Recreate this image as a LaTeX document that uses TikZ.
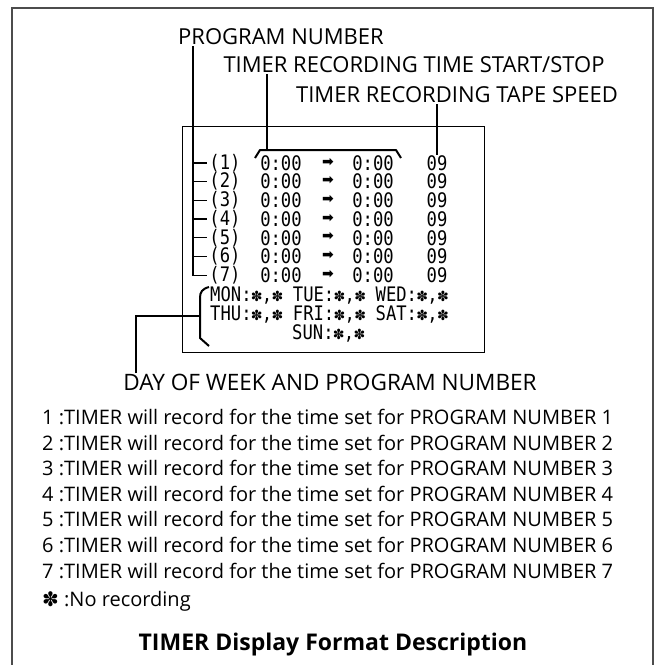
\documentclass[tikz,border=0pt]{standalone}
\usepackage{fontspec}
\setmainfont{Open Sans}
\newfontfamily\lcdfont[FakeStretch=0.86]{DejaVu Sans Mono}
\newfontfamily\symfont{DejaVu Sans}
\newcommand\lcdstar{\makebox[10.3pt]{\symfont\fontsize{14}{14}\selectfont ✽}}
\usetikzlibrary{positioning}

\tikzset{
	note/.style={font=\fontsize{22}{25}\selectfont, inner sep=1pt},
	desc/.style={font=\fontsize{20}{23}\selectfont, inner sep=1pt, anchor=west},
	lcd/.style={font=\lcdfont\fontsize{20}{22}\selectfont, inner sep=0pt},
	day/.style={lcd, anchor=west},
	lead/.style={line width=1.3pt},
	brk/.style={line width=2pt, line join=round},
	frame/.style={line width=1.6pt, draw=black!70},
}

\begin{document}
\begin{tikzpicture}[x=1pt, y=-1pt]
			\useasboundingbox (0,0) rectangle (658,665);
			\draw[frame] (12,665) |- (653,8) -- (653,665);
			% Labels
			\node[note] (pnum) at (281,37) {PROGRAM NUMBER};
			\node[note] (tstart) at (414,65) {TIMER RECORDING TIME START/STOP};
			\node[note] (tspeed) at (457,95) {TIMER RECORDING TAPE SPEED};
			\node[note, font=\fontsize{22.6}{25}\selectfont] (dow) at (330,382) {DAY OF WEEK AND PROGRAM NUMBER};
			% Display
			\draw[line width=1pt] (182,126) rectangle (484,352);
			\foreach \i in {1,...,7} {
				\node[lcd] (r\i) at (225, {163+18.7*(\i-1)}) {(\i)};
				\node[lcd] (s\i) at (281, {163+18.7*(\i-1)}) {0:00};
				\node[lcd, font=\symfont\bfseries\fontsize{14}{14}\selectfont] (a\i) at (328, {162+18.7*(\i-1)}) {➡};
				\node[lcd] (e\i) at (373, {163+18.7*(\i-1)}) {0:00};
				\node[lcd] (t\i) at (437, {163+18.7*(\i-1)}) {09};
			}
			\node[day] (mon) at (210,295) {MON:\lcdstar,\lcdstar{} TUE:\lcdstar,\lcdstar{} WED:\lcdstar,\lcdstar};
			\node[day] (thu) at (210,314) {THU:\lcdstar,\lcdstar{} FRI:\lcdstar,\lcdstar{} SAT:\lcdstar,\lcdstar};
			\node[day] (sun) at (292,333) {SUN:\lcdstar,\lcdstar};
			% Leads
			\coordinate (px) at (193,0);
			\draw[lead] (pnum.south -| px) |- ([xshift=-2pt]r7.west);
			\foreach \i in {1,...,6} {
				\draw[lead] (px |- r\i.west) -- ([xshift=-2pt]r\i.west);
			}
			\coordinate (sx) at (267,150);
			\draw[lead] (tstart.south -| sx) -- (sx);
			\draw[brk] (255,158) -- (260,150) -- (396,150) -- (401,158);
			\draw[lead] (tspeed.south -| t1) -- (t1.north);
			\coordinate (dk) at (136,316);
			\coordinate (db) at (200,316);
			\draw[lead] (dow.north -| dk) -- (dk) -- (db);
			\draw[brk] (209,287) .. controls (202,289) and (200,292) .. (200,298) -- (200,338) -- (209,346);
			% Description
			\foreach \i in {1,...,7} {
				\node[desc] (d\i) at (41, {417+25.6*(\i-1)}) {\i~:TIMER will record for the time set for PROGRAM NUMBER \i};
			}
			\node[desc] (none) at (41,601) {{\symfont ✽}~:No recording};
			\node[note, font=\bfseries\fontsize{23}{27}\selectfont] (title) at (333,645) {TIMER Display Format Description};
		\end{tikzpicture}
\end{document}
